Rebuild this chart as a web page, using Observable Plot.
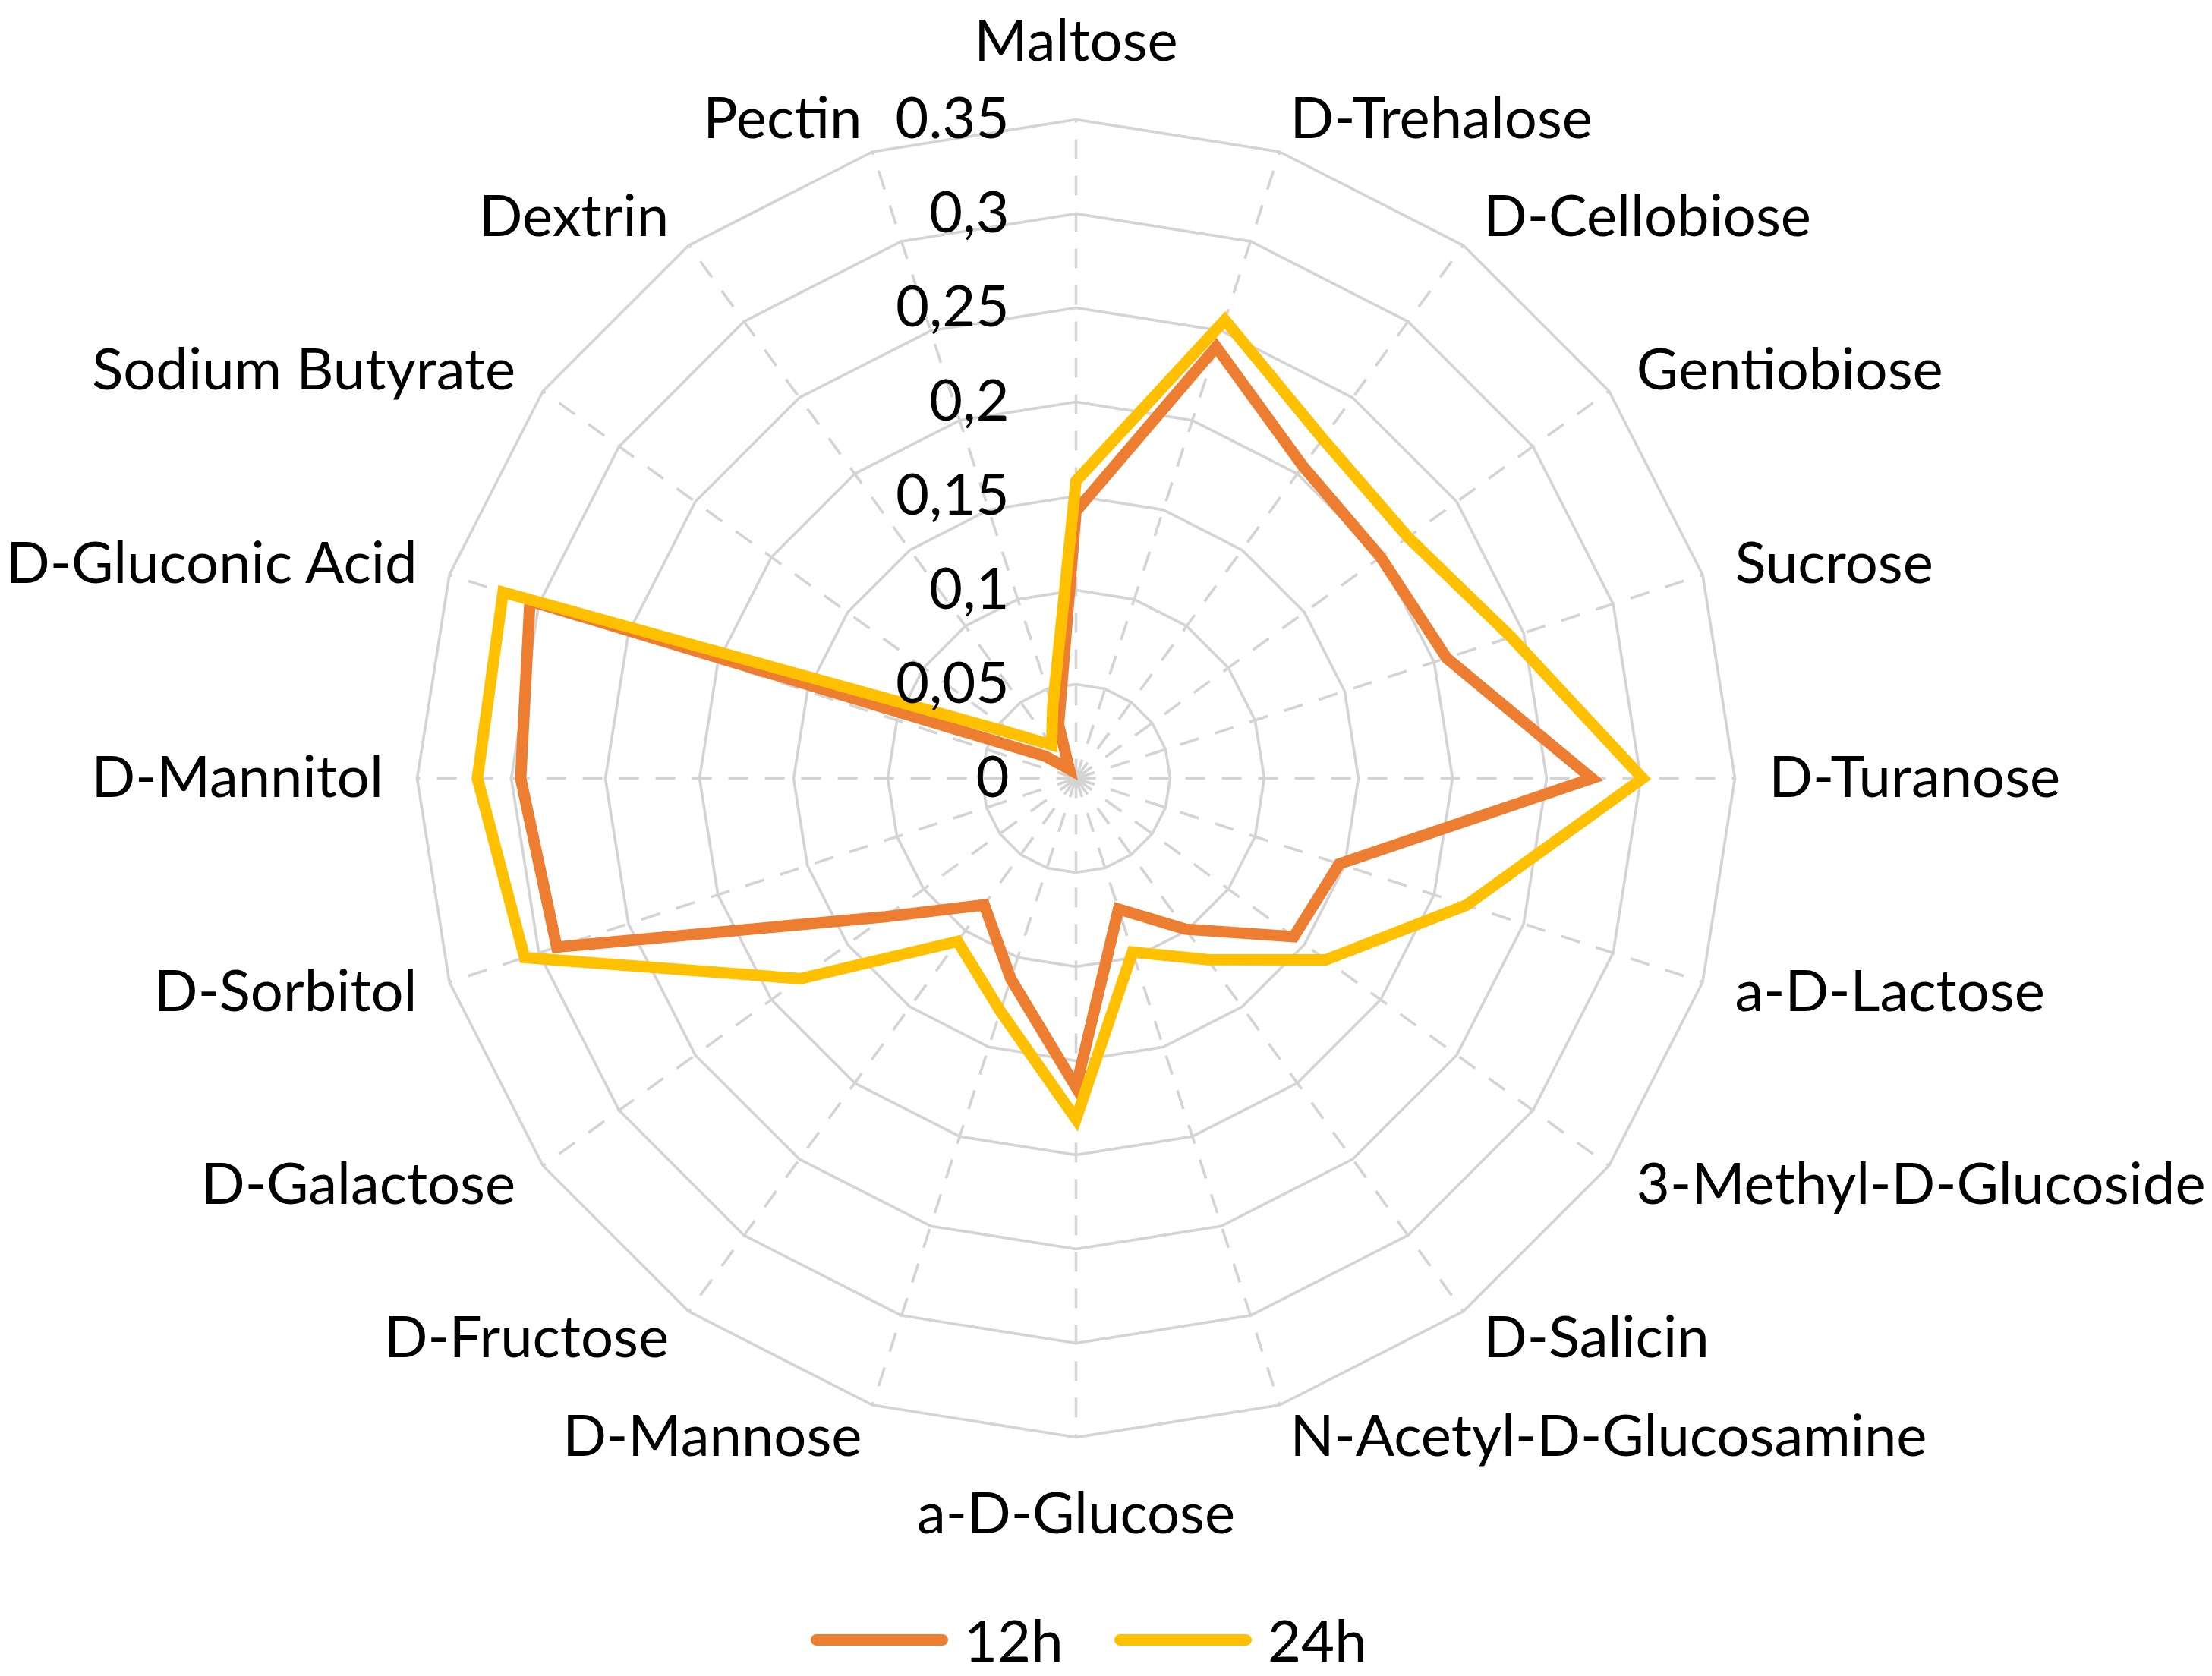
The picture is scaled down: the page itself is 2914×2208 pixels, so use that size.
<!DOCTYPE html>
<html>
<head>
<meta charset="utf-8">
<script src="https://cdn.jsdelivr.net/npm/d3@7"></script>
<script src="https://cdn.jsdelivr.net/npm/@observablehq/plot@0.6"></script>
<style>
  html, body { margin: 0; padding: 0; background: #ffffff; }
  #chart svg { display: block; }
  #legend { position: relative; width: 2914px; height: 98px; font-family: Lato, sans-serif; font-size: 76px; color: #000; }
  .sw { position: absolute; top: 43px; height: 15px; width: 181px; border-radius: 8px; }
  .lt { position: absolute; top: 0; line-height: 100px; }
</style>
</head>
<body>
<div id="chart"></div>
<div id="legend"></div>
<script>
// ---- data ----
const categories = [
  "Maltose", "D-Trehalose", "D-Cellobiose", "Gentiobiose", "Sucrose",
  "D-Turanose", "a-D-Lactose", "3-Methyl-D-Glucoside", "D-Salicin",
  "N-Acetyl-D-Glucosamine", "a-D-Glucose", "D-Mannose", "D-Fructose",
  "D-Galactose", "D-Sorbitol", "D-Mannitol", "D-Gluconic Acid",
  "Sodium Butyrate", "Dextrin", "Pectin"
];
const seriesNames = ["12h", "24h"];
const values12h = [0.142, 0.241, 0.205, 0.200, 0.207, 0.274, 0.147, 0.143, 0.099, 0.073,
                   0.164, 0.112, 0.083, 0.125, 0.290, 0.295, 0.305, 0.020, 0.006, 0.030];
const values24h = [0.158, 0.256, 0.223, 0.218, 0.243, 0.301, 0.218, 0.164, 0.119, 0.097,
                   0.181, 0.130, 0.107, 0.181, 0.308, 0.318, 0.320, 0.040, 0.022, 0.040];
const tickValues = [0, 0.05, 0.1, 0.15, 0.2, 0.25, 0.3, 0.35];
const tickLabels = ["0", "0,05", "0,1", "0,15", "0,2", "0,25", "0,3", "0.35"];
const seriesColors = ["#ED7D31", "#FFC000"];

// ---- geometry helpers (polar -> cartesian, data units) ----
const n = categories.length;
const rMax = tickValues[tickValues.length - 1];
const ang = i => 2 * Math.PI * i / n;
const X = (r, i) => r * Math.sin(ang(i));
const Y = (r, i) => r * Math.cos(ang(i));

// grid rings
const rings = [];
tickValues.filter(v => v > 0).forEach(v => {
  for (let i = 0; i < n; i++) rings.push({ring: v, x: X(v, i), y: Y(v, i)});
});
// spokes
const spokes = categories.map((c, i) => ({x1: 0, y1: 0, x2: X(rMax, i), y2: Y(rMax, i)}));

// series points
const seriesData = [];
[values12h, values24h].forEach((vals, s) => {
  vals.forEach((v, i) => seriesData.push({series: seriesNames[s], cat: categories[i], x: X(v, i), y: Y(v, i)}));
});

// category labels
const labR = 0.368, labRvert = 0.391;
const labels = categories.map((c, i) => {
  const s = Math.sin(ang(i));
  const side = s > 0.01 ? "start" : (s < -0.01 ? "end" : "middle");
  const r = side === "middle" ? labRvert : labR;
  return {label: c, side, x: X(r, i), y: Y(r, i)};
});

const ticks = tickValues.map((v, k) => ({v, label: tickLabels[k]}));

// ---- layout ----
const W = 2914, H = 2110;
const cx = 1417, cy = 1025, unit = 2480; // px per data unit

const font = "Lato, sans-serif";
const fs = 76;

const chart = Plot.plot({
  width: W, height: H,
  margin: 0,
  x: {domain: [-cx / unit, (W - cx) / unit], axis: null},
  y: {domain: [-(H - cy) / unit, cy / unit], axis: null},
  style: {background: "#ffffff", fontFamily: font},
  marks: [
    Plot.link(spokes, {x1: "x1", y1: "y1", x2: "x2", y2: "y2", stroke: "#D4D4D4", strokeWidth: 3.6, strokeDasharray: "26,22"}),
    Plot.line(rings, {x: "x", y: "y", z: "ring", curve: "linear-closed", stroke: "#D4D4D4", strokeWidth: 3.6}),
    Plot.line(seriesData, {x: "x", y: "y", z: "series", curve: "linear-closed",
      stroke: d => d.series, strokeWidth: 15, strokeLinejoin: "miter", strokeMiterlimit: 10}),
    Plot.text(ticks, {x: () => 0, y: "v", text: "label", dx: -88, textAnchor: "end",
      fontSize: fs, fontFamily: font, fill: "#000"}),
    Plot.text(labels.filter(d => d.side === "start"), {x: "x", y: "y", text: "label", textAnchor: "start", fontSize: fs, fontFamily: font, fill: "#000"}),
    Plot.text(labels.filter(d => d.side === "end"), {x: "x", y: "y", text: "label", textAnchor: "end", fontSize: fs, fontFamily: font, fill: "#000"}),
    Plot.text(labels.filter(d => d.side === "middle"), {x: "x", y: "y", text: "label", textAnchor: "middle", fontSize: fs, fontFamily: font, fill: "#000"})
  ],
  color: {domain: seriesNames, range: seriesColors}
});
document.getElementById("chart").appendChild(chart);

// ---- legend (HTML, below the SVG) ----
const legend = document.getElementById("legend");
const legendX = [1068, 1468];
seriesNames.forEach((s, k) => {
  const sw = document.createElement("div");
  sw.className = "sw";
  sw.style.left = legendX[k] + "px";
  sw.style.background = seriesColors[k];
  legend.appendChild(sw);
  const t = document.createElement("div");
  t.className = "lt";
  t.style.left = (legendX[k] + 202) + "px";
  t.textContent = s;
  legend.appendChild(t);
});
</script>
</body>
</html>
